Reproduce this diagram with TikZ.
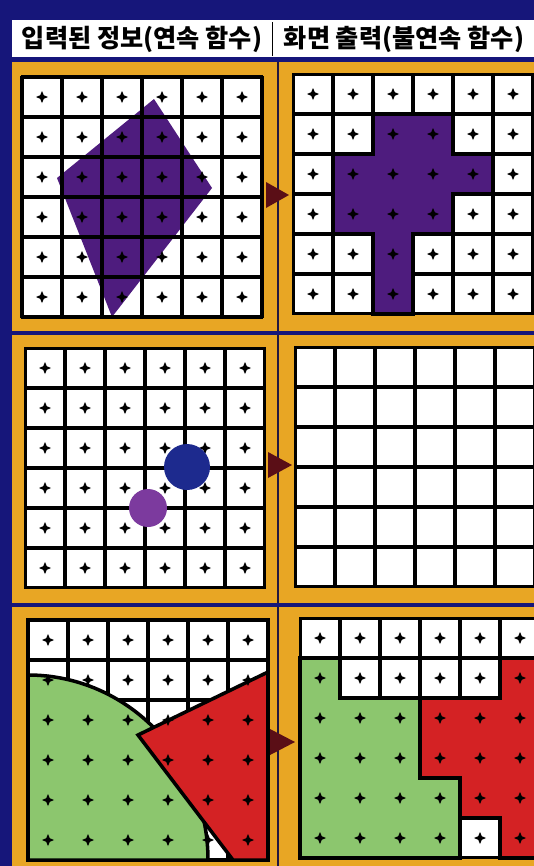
\documentclass[tikz,border=0pt]{standalone}
\usepackage{fontspec}
\newfontfamily\kor{Noto Sans CJK KR}
\usepackage{tikz}

\definecolor{navy}{HTML}{16167A}
\definecolor{panelyellow}{HTML}{E8A624}
\definecolor{darkline}{HTML}{221840}
\definecolor{shapepurple}{HTML}{4E1C7E}
\definecolor{dotblue}{HTML}{1D2A8E}
\definecolor{dotpurple}{HTML}{7C3A9E}
\definecolor{leafgreen}{HTML}{8CC66E}
\definecolor{tomred}{HTML}{D42224}
\definecolor{arrowred}{HTML}{5A0E16}

\tikzset{
	headtext/.style={font=\kor\bfseries\fontsize{21.5}{21.5}\selectfont, text=black, inner sep=0pt},
	edgeline/.style={draw=black, line width=3pt, line join=miter},
	pointer/.style={fill=arrowred}
}

% Raster: schwarzer Grund mit weissen Zellen
\newcommand{\rastercells}{
	\fill[black] (-1,-1) rectangle (241,241);
	\foreach \r in {0,...,5}{
		\foreach \c in {0,...,5}{
			\fill[white] (\c*40+1.8,\r*40+1.8) rectangle ++(36.4,36.4);
		}
	}
}
% Rasterlinien ueber einer Flaeche
\newcommand{\rasterlines}{
	\foreach \i in {0,...,6}{
		\draw[black, line width=3.6*0.03cm] (\i*40,-1) -- (\i*40,241);
		\draw[black, line width=3.6*0.03cm] (-1,\i*40) -- (241,\i*40);
	}
}
% Abtastpunkt
\newcommand{\spark}[1]{\fill[black] #1 +(0,-6) -- +(1.8,-1.8) -- +(6,0) -- +(1.8,1.8) -- +(0,6) -- +(-1.8,1.8) -- +(-6,0) -- +(-1.8,-1.8) -- cycle;}
\newcommand{\samplemarks}{
	\foreach \r in {0,...,5}{
		\foreach \c in {0,...,5}{
			\spark{(\c*40+20,\r*40+20)}
		}
	}
}

\begin{document}
\begin{tikzpicture}[x=0.03cm, y=-0.03cm]

		\useasboundingbox (0,0) rectangle (534,866);
		\clip (0,0) rectangle (534,866);

		% Hintergrund
		\fill[navy] (0,0) rectangle (534,866);
		\fill[panelyellow] (12,62) rectangle (534,866);

		% Kopfzeile
		\fill[white] (12,20) rectangle (534,57);
		\draw[black, line width=0.8pt] (272,22) -- (272,56);
		\node[headtext] (inhead) at (142,39) {입력된 정보(연속 함수)};
		\node[headtext] (outhead) at (404,39) {화면 출력(불연속 함수)};

		% Trennlinien
		\draw[darkline, line width=1.2pt] (278,62) -- (278,866);
		\draw[navy, line width=2.6pt] (12,333) -- (534,333);
		\draw[navy, line width=2.6pt] (12,605) -- (534,605);

		% Reihe 1 links: Viereck
		\begin{scope}[shift={(22,77)}]
			\rastercells
			\fill[shapepurple] (132,22) -- (190,111) -- (90,240) -- (35,101) -- cycle;
			\rasterlines
			\samplemarks
		\end{scope}

		% Reihe 1 rechts: gerastertes Viereck
		\begin{scope}[shift={(293,74)}]
			\rastercells
			\filldraw[fill=shapepurple, edgeline] (80,40) -- (160,40) -- (160,80) -- (200,80) -- (200,120) -- (160,120) -- (160,160) -- (120,160) -- (120,240) -- (80,240) -- (80,160) -- (40,160) -- (40,80) -- (80,80) -- cycle;
			\samplemarks
		\end{scope}

		% Reihe 2 links: zwei Punkte
		\begin{scope}[shift={(25,348)}]
			\rastercells
			\samplemarks
			\fill[dotblue] (162,119) circle[radius=23];
			\fill[dotpurple] (123,160) circle[radius=19];
		\end{scope}

		% Reihe 2 rechts: leer
		\begin{scope}[shift={(295,347)}]
			\rastercells
		\end{scope}

		% Reihe 3 links: Viertelkreis und Dreieck
		\begin{scope}[shift={(28,620)}]
			\rastercells
			\filldraw[fill=leafgreen, edgeline] (0,240) -- (0,55) arc[start angle=-90, end angle=0, x radius=180, y radius=185] -- cycle;
			\filldraw[fill=tomred, edgeline] (110,115) -- (240,52) -- (240,240) -- (205,240) -- cycle;
			\samplemarks
			\draw[black, line width=1.5pt] (-1,-1) rectangle (241,241);
		\end{scope}

		% Reihe 3 rechts: gerasterte Flaechen
		\begin{scope}[shift={(300,618)}]
			\rastercells
			\filldraw[fill=leafgreen, edgeline] (0,40) -- (40,40) -- (40,80) -- (120,80) -- (120,160) -- (160,160) -- (160,240) -- (0,240) -- cycle;
			\filldraw[fill=tomred, edgeline] (200,40) -- (240,40) -- (240,240) -- (200,240) -- (200,200) -- (160,200) -- (160,160) -- (120,160) -- (120,80) -- (200,80) -- cycle;
			\samplemarks
		\end{scope}

		% Pfeile
		\fill[pointer] (266,182) -- (289,195) -- (266,208) -- cycle;
		\fill[pointer] (268,452) -- (292,465) -- (268,478) -- cycle;
		\fill[pointer] (270,729) -- (295,742) -- (270,755) -- cycle;

	\end{tikzpicture}
\end{document}
